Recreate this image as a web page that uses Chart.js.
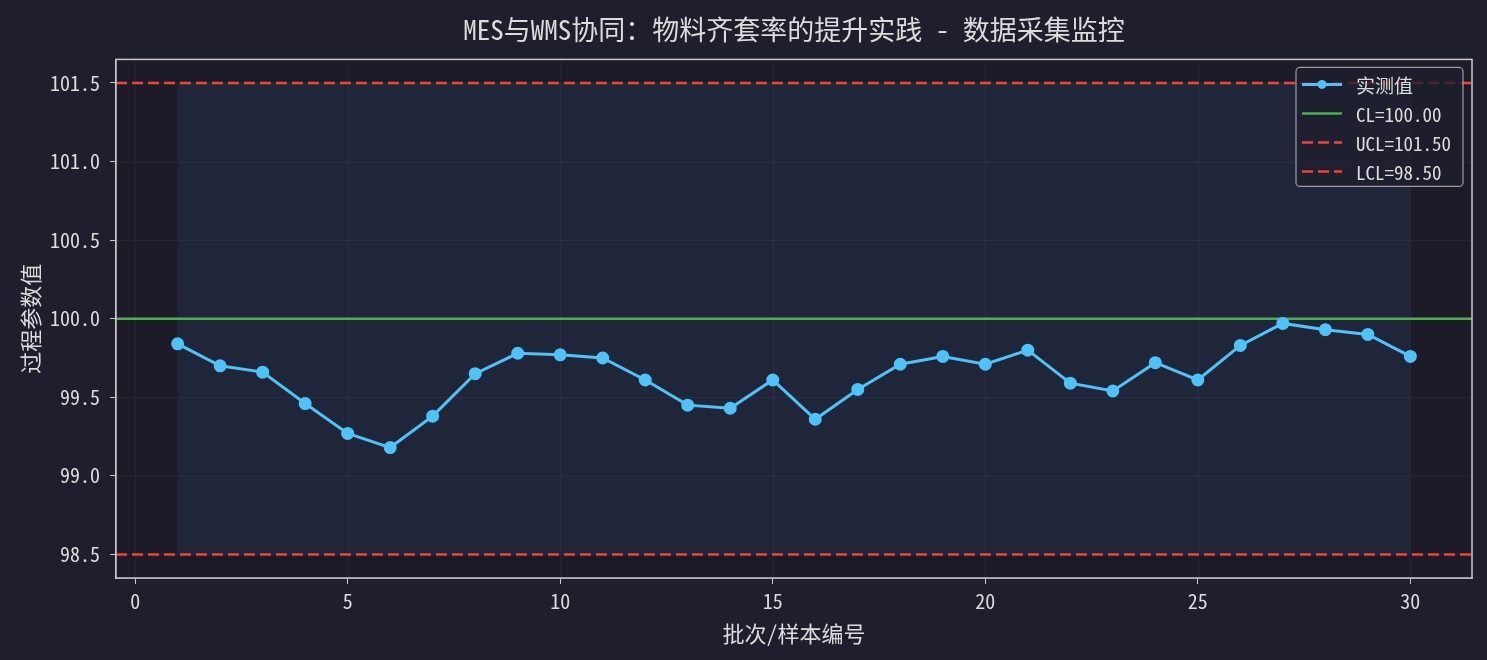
<!DOCTYPE html>
<html>
<head>
<meta charset="utf-8">
<script src="https://cdn.jsdelivr.net/npm/chart.js@4"></script>
<style>
  html, body { margin: 0; padding: 0; background: #1e1e2d; }
  #wrap { width: 1487px; height: 660px; }
</style>
</head>
<body>
<div id="wrap"><canvas id="chart" width="1487" height="660"></canvas></div>
<script>
////////////////////////////////////////////////////////////////////////
// Data
const batches = [1, 2, 3, 4, 5, 6, 7, 8, 9, 10, 11, 12, 13, 14, 15,
                 16, 17, 18, 19, 20, 21, 22, 23, 24, 25, 26, 27, 28, 29, 30]
const measured = [99.84, 99.70, 99.66, 99.46, 99.27, 99.18, 99.38, 99.65, 99.78, 99.77,
                  99.75, 99.61, 99.45, 99.43, 99.61, 99.36, 99.55, 99.71, 99.76, 99.71,
                  99.80, 99.59, 99.54, 99.72, 99.61, 99.83, 99.97, 99.93, 99.90, 99.76]
const CL = 100.0
const UCL = 101.5
const LCL = 98.5
const xRange = [-0.45, 31.45]
const yRange = [98.35, 101.65]

////////////////////////////////////////////////////////////////////////
// Styles
const FONT = "'Noto Sans Mono CJK SC', 'DejaVu Sans Mono', 'Noto Sans CJK SC', monospace"
const TEXT = '#dcdcdc'
const SPINE = '#c8c8c8'

/**
 * Horizontal reference line spanning the whole x range.
 */
function refLine(value) {
    return [{ x: xRange[0], y: value }, { x: xRange[1], y: value }]
}

// Plot background, control-band shading and top/right spines
const framePlugin = {
    id: 'frame',
    beforeDatasetsDraw(chart) {
        const { ctx, chartArea: a, scales: { x, y } } = chart
        ctx.save()
        ctx.fillStyle = '#1d1b28'
        ctx.fillRect(a.left, a.top, a.right - a.left, a.bottom - a.top)
        const x0 = x.getPixelForValue(batches[0])
        const x1 = x.getPixelForValue(batches[batches.length - 1])
        const y0 = y.getPixelForValue(UCL)
        const y1 = y.getPixelForValue(LCL)
        ctx.fillStyle = '#20263a'
        ctx.fillRect(x0, y0, x1 - x0, y1 - y0)
        // faint grid over the band
        ctx.strokeStyle = 'rgba(255,255,255,0.045)'
        ctx.lineWidth = 1
        x.ticks.forEach(t => {
            const px = Math.round(x.getPixelForValue(t.value)) + 0.5
            ctx.beginPath(); ctx.moveTo(px, a.top); ctx.lineTo(px, a.bottom); ctx.stroke()
        })
        y.ticks.forEach(t => {
            const py = Math.round(y.getPixelForValue(t.value)) + 0.5
            ctx.beginPath(); ctx.moveTo(a.left, py); ctx.lineTo(a.right, py); ctx.stroke()
        })
        ctx.restore()
    },
    afterDraw(chart) {
        const { ctx, chartArea: a } = chart
        ctx.save()
        ctx.strokeStyle = SPINE
        ctx.lineWidth = 1.5
        ctx.strokeRect(a.left, a.top, a.right - a.left, a.bottom - a.top)
        ctx.restore()
    }
}

// Legend box in the upper-right corner
const legendPlugin = {
    id: 'cornerLegend',
    afterDraw(chart) {
        const { ctx, chartArea: a } = chart
        const w = 167, h = 119
        const bx = a.right - 9 - w, by = a.top + 8
        ctx.save()
        ctx.fillStyle = 'rgba(30,30,45,0.8)'
        ctx.strokeStyle = 'rgba(200,200,200,0.75)'
        ctx.lineWidth = 1.2
        ctx.beginPath()
        ctx.roundRect(bx, by, w, h, 4)
        ctx.fill(); ctx.stroke()
        ctx.font = '19px ' + FONT
        ctx.textBaseline = 'middle'
        chart.data.datasets.forEach((ds, i) => {
            const ly = by + 17 + i * 29
            ctx.strokeStyle = ds.borderColor
            ctx.lineWidth = ds.borderWidth
            ctx.setLineDash(ds.borderDash || [])
            ctx.beginPath(); ctx.moveTo(bx + 6, ly); ctx.lineTo(bx + 46, ly); ctx.stroke()
            ctx.setLineDash([])
            if (ds.pointRadius) {
                ctx.fillStyle = ds.borderColor
                ctx.beginPath(); ctx.arc(bx + 26, ly, 4.5, 0, Math.PI * 2); ctx.fill()
            }
            ctx.fillStyle = TEXT
            ctx.fillText(ds.label, bx + 60, ly + 1)
        })
        ctx.restore()
    }
}

new Chart(document.getElementById('chart'), {
    type: 'line',
    data: {
        datasets: [
            {
                label: '实测值',
                data: batches.map((b, i) => ({ x: b, y: measured[i] })),
                borderColor: '#4fc3f7',
                backgroundColor: '#4fc3f7',
                borderWidth: 3,
                pointRadius: 5,
                pointHoverRadius: 5,
                fill: false,
                order: 0
            },
            {
                label: 'CL=' + CL.toFixed(2),
                data: refLine(CL),
                borderColor: '#4caf50',
                borderWidth: 2.5,
                pointRadius: 0,
                order: 1
            },
            {
                label: 'UCL=' + UCL.toFixed(2),
                data: refLine(UCL),
                borderColor: '#f44336',
                borderWidth: 2.5,
                borderDash: [11, 5],
                pointRadius: 0,
                order: 1
            },
            {
                label: 'LCL=' + LCL.toFixed(2),
                data: refLine(LCL),
                borderColor: '#f44336',
                borderWidth: 2.5,
                borderDash: [11, 5],
                pointRadius: 0,
                order: 1
            }
        ]
    },
    options: {
        responsive: false,
        animation: false,
        devicePixelRatio: 1,
        layout: { padding: { left: 0, right: 15, top: 0, bottom: 0 } },
        plugins: {
            legend: { display: false },
            tooltip: { enabled: false },
            title: {
                display: true,
                fullSize: false,
                text: 'MES与WMS协同：物料齐套率的提升实践 - 数据采集监控',
                color: TEXT,
                font: { family: FONT, size: 27, weight: 'normal' },
                padding: { top: 14, bottom: 13 }
            }
        },
        scales: {
            x: {
                type: 'linear',
                min: xRange[0],
                max: xRange[1],
                afterFit: s => { s.height = 82 },
                border: { color: SPINE, width: 1.5 },
                grid: { color: 'transparent', tickColor: SPINE, tickLength: 6 },
                ticks: {
                    stepSize: 5,
                    includeBounds: false,
                    color: TEXT,
                    padding: 5,
                    font: { family: FONT, size: 20 }
                },
                title: {
                    display: true,
                    text: '批次/样本编号',
                    color: TEXT,
                    font: { family: FONT, size: 22 },
                    padding: { top: 0, bottom: 13 }
                }
            },
            y: {
                type: 'linear',
                min: yRange[0],
                max: yRange[1],
                afterFit: s => { s.width = 116 },
                border: { color: SPINE, width: 1.5 },
                grid: { color: 'transparent', tickColor: SPINE, tickLength: 6 },
                ticks: {
                    stepSize: 0.5,
                    includeBounds: false,
                    color: TEXT,
                    padding: 10,
                    font: { family: FONT, size: 20 },
                    callback: v => v.toFixed(1)
                },
                title: {
                    display: true,
                    text: '过程参数值',
                    color: TEXT,
                    font: { family: FONT, size: 22 },
                    padding: { top: 17, bottom: 0 }
                }
            }
        }
    },
    plugins: [framePlugin, legendPlugin]
})
</script>
</body>
</html>
